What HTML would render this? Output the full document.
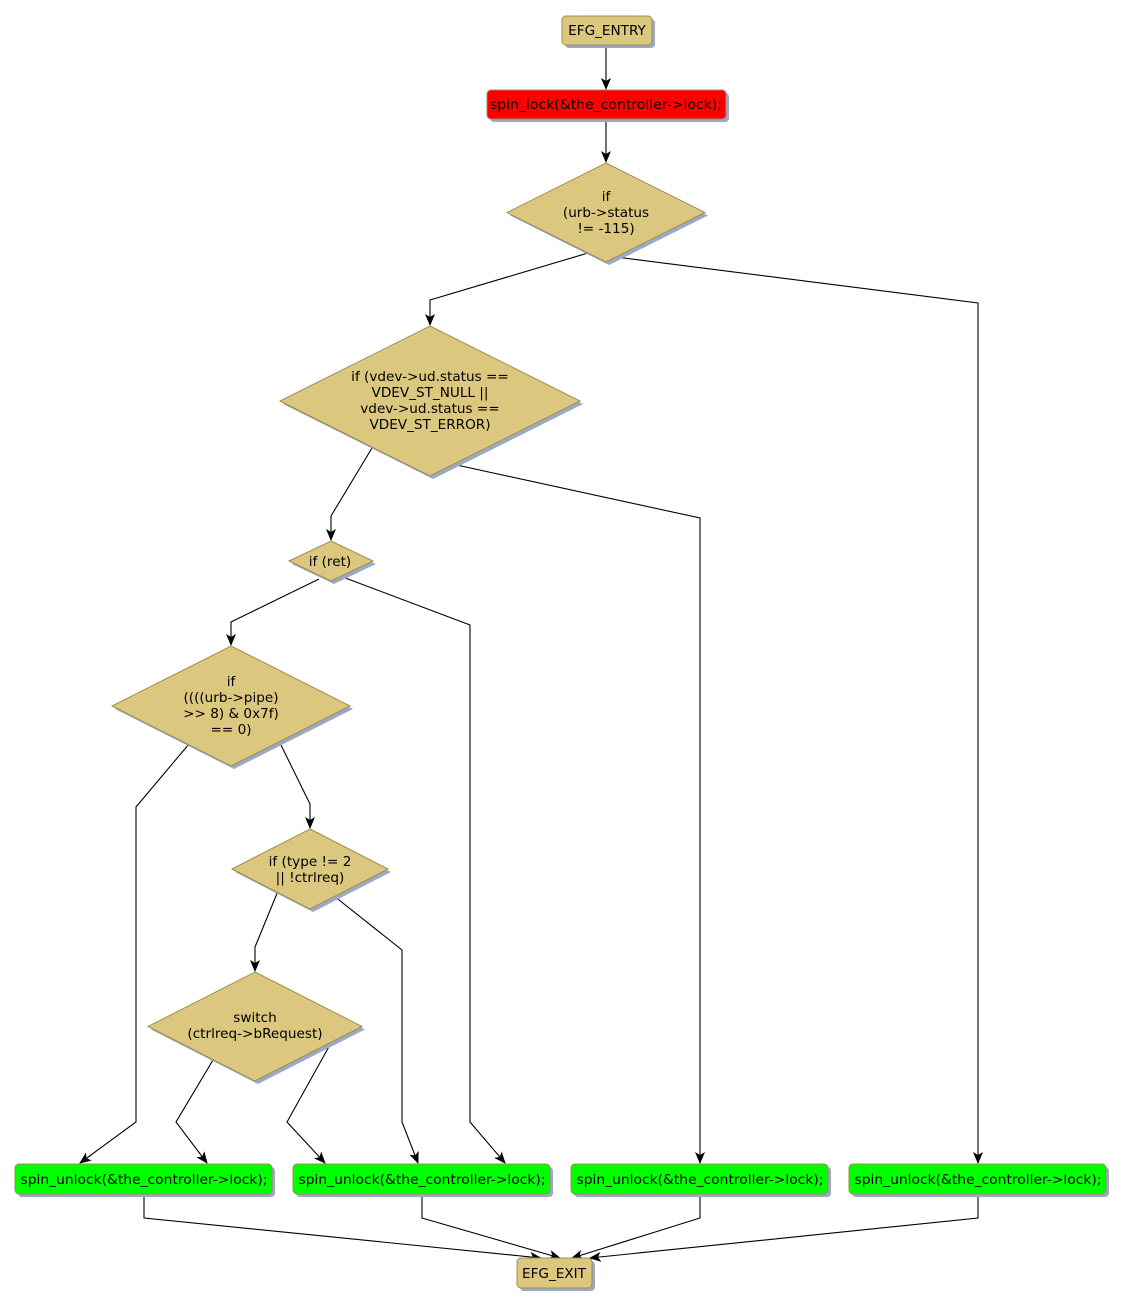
<!DOCTYPE html>
<html><head><meta charset="utf-8"><style>
html,body{margin:0;padding:0;background:#fff;}
svg{display:block;}
text{font-family:"DejaVu Sans","Liberation Sans",sans-serif;font-size:13.6px;fill:#000;}
</style></head><body>
<svg width="1125" height="1307" viewBox="0 0 1125 1307" xmlns="http://www.w3.org/2000/svg">
<defs>
<marker id="a" markerWidth="12" markerHeight="10" refX="11" refY="5" orient="auto" markerUnits="userSpaceOnUse">
<path d="M0,0 L12,5 L0,10 L3,5 z" fill="#000"/>
</marker>
</defs>
<g fill="none" stroke="#000" stroke-width="1.1">
<path d="M606,45 L606,89" marker-end="url(#a)"/>
<path d="M606,119 L606,162" marker-end="url(#a)"/>
<path d="M588,253 L430,300 L430,325" marker-end="url(#a)"/>
<path d="M616,257 L978,303 L978,1163" marker-end="url(#a)"/>
<path d="M372,448 L331,516 L331,540" marker-end="url(#a)"/>
<path d="M452,464 L700,518 L700,1163" marker-end="url(#a)"/>
<path d="M319,579 L231,622 L231,645" marker-end="url(#a)"/>
<path d="M340,576 L470,625 L470,1122 L505,1163" marker-end="url(#a)"/>
<path d="M189,744 L136,807 L136,1122 L80,1163" marker-end="url(#a)"/>
<path d="M279,741 L310,804 L310,828" marker-end="url(#a)"/>
<path d="M278,891 L255,947 L255,971" marker-end="url(#a)"/>
<path d="M334,896 L402,950 L402,1122 L418,1163" marker-end="url(#a)"/>
<path d="M213,1060 L176,1122 L207,1163" marker-end="url(#a)"/>
<path d="M331,1043 L287,1122 L325,1163" marker-end="url(#a)"/>
<path d="M144,1194 L144,1218 L541,1258" marker-end="url(#a)"/>
<path d="M422,1194 L422,1218 L560,1258" marker-end="url(#a)"/>
<path d="M700,1194 L700,1218 L572,1258" marker-end="url(#a)"/>
<path d="M978,1194 L978,1218 L590,1258" marker-end="url(#a)"/>
</g>
<g fill="#9aa9c8">
<rect x="565" y="19" width="90" height="29" rx="4"/>
<rect x="490" y="93" width="239" height="29" rx="4"/>
<polygon points="609,166 708,215.5 609,265 510,215.5"/>
<polygon points="433,329 583,404 433,479 283,404"/>
<polygon points="334,544 376,564 334,584 292,564"/>
<polygon points="234,649 353,709 234,769 115,709"/>
<polygon points="313,832 391,872 313,912 235,872"/>
<polygon points="258,975 365,1029.5 258,1084 151,1029.5"/>
<rect x="18" y="1167" width="257" height="30" rx="4"/>
<rect x="296" y="1167" width="257" height="30" rx="4"/>
<rect x="574" y="1167" width="257" height="30" rx="4"/>
<rect x="852" y="1167" width="257" height="30" rx="4"/>
<rect x="520" y="1261" width="75" height="30" rx="4"/>
</g>
<g stroke="#a08c50" stroke-width="1" fill="#dbc87e">
<rect x="562" y="16" width="90" height="29" rx="4"/>
<rect x="487" y="90" width="239" height="29" rx="4" fill="#ff0000"/>
<polygon points="606,163 705,212.5 606,262 507,212.5"/>
<polygon points="430,326 580,401 430,476 280,401"/>
<polygon points="331,541 373,561 331,581 289,561"/>
<polygon points="231,646 350,706 231,766 112,706"/>
<polygon points="310,829 388,869 310,909 232,869"/>
<polygon points="255,972 362,1026.5 255,1081 148,1026.5"/>
<rect x="15" y="1164" width="257" height="30" rx="4" fill="#00ff00"/>
<rect x="293" y="1164" width="257" height="30" rx="4" fill="#00ff00"/>
<rect x="571" y="1164" width="257" height="30" rx="4" fill="#00ff00"/>
<rect x="849" y="1164" width="257" height="30" rx="4" fill="#00ff00"/>
<rect x="517" y="1258" width="75" height="30" rx="4"/>
</g>
<g text-anchor="middle">
<text x="607" y="35">EFG_ENTRY</text>
<text x="606" y="109" textLength="232" lengthAdjust="spacingAndGlyphs">spin_lock(&amp;the_controller-&gt;lock);</text>
<text x="606" y="201">if</text>
<text x="606" y="217">(urb-&gt;status</text>
<text x="606" y="233">!= -115)</text>
<text x="430" y="381">if (vdev-&gt;ud.status ==</text>
<text x="430" y="397">VDEV_ST_NULL ||</text>
<text x="430" y="413">vdev-&gt;ud.status ==</text>
<text x="430" y="429">VDEV_ST_ERROR)</text>
<text x="330" y="566">if (ret)</text>
<text x="231" y="686">if</text>
<text x="231" y="702">((((urb-&gt;pipe)</text>
<text x="231" y="718">&gt;&gt; 8) &amp; 0x7f)</text>
<text x="231" y="734">== 0)</text>
<text x="310" y="866">if (type != 2</text>
<text x="310" y="882">|| !ctrlreq)</text>
<text x="255" y="1022">switch</text>
<text x="255" y="1038">(ctrlreq-&gt;bRequest)</text>
<text x="144" y="1184" textLength="247" lengthAdjust="spacingAndGlyphs">spin_unlock(&amp;the_controller-&gt;lock);</text>
<text x="422" y="1184" textLength="247" lengthAdjust="spacingAndGlyphs">spin_unlock(&amp;the_controller-&gt;lock);</text>
<text x="700" y="1184" textLength="247" lengthAdjust="spacingAndGlyphs">spin_unlock(&amp;the_controller-&gt;lock);</text>
<text x="978" y="1184" textLength="247" lengthAdjust="spacingAndGlyphs">spin_unlock(&amp;the_controller-&gt;lock);</text>
<text x="554" y="1278">EFG_EXIT</text>
</g>
</svg>
</body></html>
